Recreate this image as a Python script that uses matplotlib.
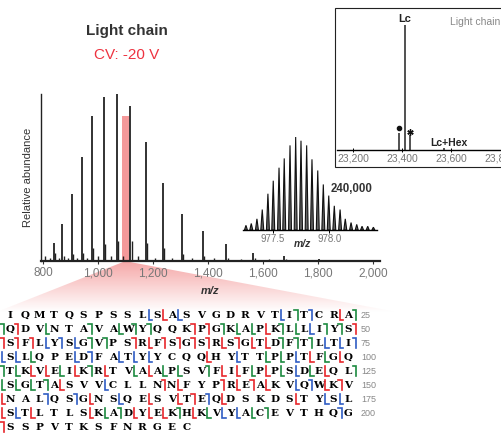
import matplotlib.pyplot as plt
import numpy as np
from matplotlib.patches import Polygon, Rectangle

plt.rcParams['font.family'] = ['Liberation Sans', 'DejaVu Sans']

# %% Data
# main charge-state envelope (m/z, relative abundance)
peak_mz = [838, 869, 903, 939, 978, 1020, 1067, 1117, 1173, 1235, 1303, 1380, 1466, 1564, 1676, 1804]
peak_h = [11, 22, 40, 62, 87, 98, 100, 93, 71, 47, 28, 18, 10, 5, 3, 1]
minor_mz = [806, 822, 841, 855, 873, 888, 906, 921, 943, 958, 982, 1000, 1025, 1045, 1072,
            1090, 1122, 1145, 1178, 1205, 1240, 1270, 1309, 1340, 1386, 1420, 1472, 1520,
            1570, 1620, 1682, 1740, 1810, 1900, 1960]
minor_h = [3, 2, 5, 2, 3, 2, 4, 2, 5, 2, 8, 3, 10, 3, 12, 3, 12, 3, 11, 2, 8, 2, 4, 2, 3,
           1.5, 2, 1, 1.5, 1, 1, 0.8, 0.8, 0.6, 0.5]
window_lo, window_hi, window_h = 1086, 1110, 87
main_ticks = [800, 1000, 1200, 1400, 1600, 1800, 2000]

# isotope distribution of the 24+ ion
iso_mz = [977.264, 977.311, 977.361, 977.408, 977.458, 977.505, 977.556, 977.602,
          977.653, 977.703, 977.750, 977.800, 977.847, 977.898, 977.947, 977.995,
          978.044, 978.095, 978.141, 978.192, 978.242, 978.289, 978.339, 978.389]
iso_h = [5, 7, 12, 22, 39, 53, 67, 77, 91, 100, 96, 91, 76, 64, 49, 37, 26, 22, 12, 8, 6, 4, 4, 3]
iso_ticks = [977.5, 978.0]

# deconvoluted mass
dec_ticks = [23200, 23400, 23600, 23800]
dec_mass = [23388, 23410, 23432, 23572]
dec_h = [14, 100, 12, 2]

# sequence and fragment cleavage sites
seq_rows = ['DIQMTQSPSSLSASVGDRVTITCRA', 'SQDVNTAVAWYQQKPGKAPKLLIYS',
            'ASFLYSGVPSRFSGSRSGTDFTLTI', 'SSLQPEDFATYYCQQHYTTPPTFGQ',
            'GTKVEIKRTVAAPSVFIFPPSDEQL', 'KSGTASVVCLLNNFYPREAKVQWKV',
            'DNALQSGNSQESVTEQDSKDSTYSL', 'SSTLTLSKADYEKHKVYACEVTHQG',
            'LSSPVTKSFNRGEC']
red_N = [27, 39, 40, 50, 51, 52, 53, 60, 62, 63, 64, 65, 67, 137, 141, 143, 149, 164, 201]
red_C = [12, 24, 44, 61, 66, 68, 69, 90, 97, 99, 103, 104, 106, 108, 111, 116, 117, 119, 123,
         130, 138, 142, 144, 148, 151, 157, 161, 163, 166, 171, 176, 178, 182, 185, 186, 187, 189]
green_N = [21, 25, 26, 32, 35, 36, 41, 45, 48, 49, 57, 58, 70, 71, 72, 101, 107, 115, 125,
           129, 184, 188, 194]
green_C = [29, 34, 42, 43, 46, 78, 94, 95, 98, 102, 105, 110, 112, 113, 118, 120, 122, 126,
           127, 128, 183, 190, 193]
blue_N = [22, 55, 75, 82, 147, 154, 156, 165, 199]
blue_C = [11, 13, 20, 47, 54, 56, 73, 74, 76, 77, 81, 84, 85, 86, 92, 96, 121, 133, 146, 159,
          173, 174, 177, 191, 192]

# %% Plotting
W, H = 502, 433
fig = plt.figure(figsize=(W/100, H/100), dpi=100)

def fx(x):
    return x / W

def fy(y):
    return 1 - y / H

# background layer in pixel coordinates
bg = fig.add_axes([0, 0, 1, 1])
bg.set_xlim(0, W)
bg.set_ylim(H, 0)
bg.axis('off')

# fading zoom wedge from the selected window down to the sequence
wedge = Polygon([(123, 262), (130, 262), (413, 315), (-11, 315)], closed=True,
                facecolor='none', edgecolor='none')
bg.add_patch(wedge)
grad = np.zeros((100, 1, 4))
grad[:, 0, 0] = 0.95
grad[:, 0, 1] = 0.55
grad[:, 0, 2] = 0.55
grad[:, 0, 3] = np.linspace(0.75, 0.0, 100)
im = bg.imshow(grad, extent=(-11, 413, 312, 262), aspect='auto', origin='upper', zorder=1)
im.set_clip_path(wedge)

# top-right inset frame
bg.add_patch(Rectangle((335, 8), 180, 159, facecolor='white', edgecolor='#222', lw=0.8, zorder=2))

# sequence map (the first column runs off the left edge, as in the original crop)
x0, dx, y0, dy = -4.7, 14.7, 315, 14
for r, row in enumerate(seq_rows):
    for c, aa in enumerate(row):
        xc = x0 + c*dx
        if xc < 0:
            continue
        bg.text(xc, y0 + r*dy, aa, fontsize=7.5, fontweight='heavy',
                family='DejaVu Serif', ha='center', va='center', color='black', zorder=3)
    if len(row) == 25:
        bg.text(361, y0 + r*dy, str((r + 1)*25), fontsize=6.5, color='#888',
                ha='left', va='center', zorder=3)

def draw_marks(sites, kind, color):
    for b in sites:
        r = (b - 1) // 25
        c = b - 25*r
        xb = x0 + (c - 0.5)*dx
        yc = y0 + r*dy
        if kind == 'C':
            bg.plot([xb - 1, xb - 1, xb + 2.5], [yc - 5, yc + 4.5, yc + 4.5],
                    color=color, lw=1.2, solid_joinstyle='miter', zorder=3)
        else:
            bg.plot([xb - 2.5, xb + 1, xb + 1], [yc - 5, yc - 5, yc + 4.5],
                    color=color, lw=1.2, solid_joinstyle='miter', zorder=3)

red, green, blue = '#e8262b', '#1b8a3f', '#2f5cc4'
draw_marks(red_N, 'N', red)
draw_marks(red_C, 'C', red)
draw_marks(green_N, 'N', green)
draw_marks(green_C, 'C', green)
draw_marks(blue_N, 'N', blue)
draw_marks(blue_C, 'C', blue)

# main spectrum
ax = fig.add_axes([fx(41), fy(261), (380 - 41)/W, (261 - 94)/H])
ax.set_facecolor('none')
ax.bar((window_lo + window_hi)/2, window_h, width=window_hi - window_lo,
       color='#f4999a', zorder=1)
ax.vlines(minor_mz, 0, minor_h, color='#222', lw=1.0, zorder=2)
ax.vlines(peak_mz, 0, peak_h, color='#222', lw=1.3, zorder=3)
ax.set_xlim(791, 2026)
ax.set_ylim(0, 100)
ax.set_xticks(main_ticks)
ax.set_xticklabels(['{:,}'.format(t) for t in main_ticks])
ax.set_yticks([])
for s in ['top', 'right']:
    ax.spines[s].set_visible(False)
ax.spines['left'].set_linewidth(1.0)
ax.spines['bottom'].set_linewidth(1.6)
ax.spines['left'].set_color('#222')
ax.spines['bottom'].set_color('#222')
ax.tick_params(axis='x', length=2.5, width=0.8, color='#333', labelcolor='#777',
               labelsize=8.5, pad=2)

fig.text(fx(28), fy(177), 'Relative abundance', rotation=90, fontsize=8,
         color='#333', ha='center', va='center')
fig.text(fx(210), fy(291), 'm/z', fontsize=8, style='italic', fontweight='bold',
         color='#333', ha='center', va='center')
fig.text(fx(127), fy(31), 'Light chain', fontsize=11, fontweight='bold',
         color='#333', ha='center', va='center')
fig.text(fx(127), fy(55), 'CV: -20 V', fontsize=11, color='#ee3340',
         ha='center', va='center')

# isotope inset
ax2 = fig.add_axes([fx(243), fy(230), 134/W, 93/H])
ax2.set_facecolor('none')
w = 0.013
for m, h in zip(iso_mz, iso_h):
    ax2.fill([m - w, m, m + w], [0, h, 0], facecolor='#666', edgecolor='#111', lw=0.8)
ax2.set_xlim(977.238, 978.421)
ax2.set_ylim(0, 100)
ax2.set_xticks(iso_ticks)
ax2.set_xticklabels(['977.5', '978.0'])
ax2.set_yticks([])
for s in ['top', 'right', 'left']:
    ax2.spines[s].set_visible(False)
ax2.spines['bottom'].set_linewidth(1.0)
ax2.tick_params(axis='x', length=2, width=0.7, labelcolor='#777', labelsize=7, pad=1)
fig.text(fx(303), fy(244), 'm/z', fontsize=7.5, style='italic', fontweight='bold',
         color='#333', ha='center', va='center')
fig.text(fx(352), fy(189), '240,000', fontsize=8.3, fontweight='bold',
         color='#333', ha='center', va='center')

# deconvoluted inset
ax3 = fig.add_axes([fx(337), fy(150), 165/W, 125/H])
ax3.set_facecolor('none')
ax3.vlines(dec_mass, 0, dec_h, color='#333', lw=1.2)
ax3.plot(dec_mass[0], 17.8, 'o', ms=3, color='#111')
ax3.plot(dec_mass[2], 14.6, marker=(6, 2, 0), ms=4.5, mew=1.0, color='#111')
ax3.text(dec_mass[1], 104.6, 'Lc', fontsize=8, fontweight='bold', color='#222',
         ha='center', va='center')
ax3.text(23588, 5.8, 'Lc+Hex', fontsize=7.5, fontweight='bold', color='#222',
         ha='center', va='center')
ax3.set_xlim(23135, 23806)
ax3.set_ylim(0, 100)
ax3.set_xticks(dec_ticks)
ax3.set_xticklabels(['{:,}'.format(t) for t in dec_ticks])
ax3.set_yticks([])
for s in ['top', 'right', 'left']:
    ax3.spines[s].set_visible(False)
ax3.spines['bottom'].set_linewidth(1.0)
ax3.tick_params(axis='x', direction='inout', length=3, width=0.7,
                labelcolor='#777', labelsize=7.5, pad=1)
fig.text(fx(450), fy(21.7), 'Light chain', fontsize=7.5, color='#888',
         ha='left', va='center')

plt.savefig('out.png', dpi=100)
